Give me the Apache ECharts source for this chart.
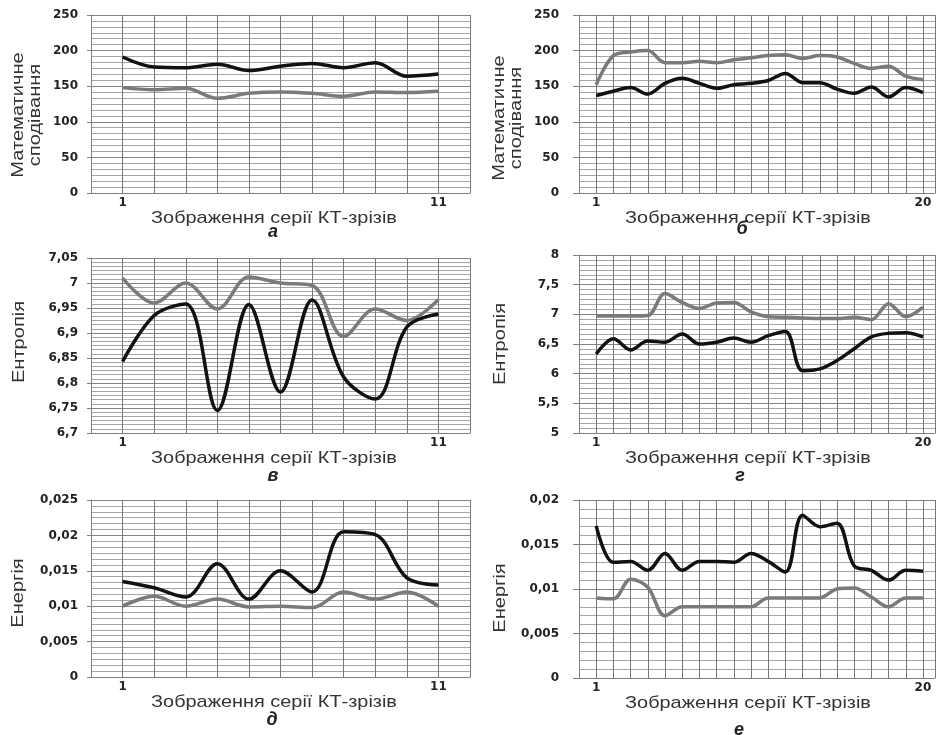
<!DOCTYPE html>
<html>
<head>
<meta charset="utf-8">
<script src="https://cdn.jsdelivr.net/npm/echarts@6/dist/echarts.min.js"></script>
<style>
  html, body { margin: 0; padding: 0; background: #fff; }
  #chart { width: 938px; height: 735px; }
</style>
</head>
<body>
<div id="chart"></div>
<script>
// values, slice index 1..N
const meanBlackA = [191, 177, 176, 181, 172, 178, 182, 176, 183, 164, 167];
const meanGrayA = [148, 145, 147, 133, 140, 142, 140, 136, 142, 141, 143];
const meanBlackB = [137, 143, 148, 139, 154, 161, 154, 147, 152, 154, 158, 168, 155, 155, 146, 140, 149, 135, 148, 141];
const meanGrayB = [152, 193, 198, 200, 183, 183, 185, 183, 187, 190, 193, 194, 189, 193, 191, 182, 175, 178, 164, 159];
const entBlackV = [6.843, 6.935, 6.958, 6.745, 6.957, 6.782, 6.966, 6.812, 6.768, 6.912, 6.938];
const entGrayV = [7.01, 6.96, 7.0, 6.948, 7.012, 7.0, 6.995, 6.893, 6.948, 6.925, 6.967];
const entBlackG = [6.33, 6.59, 6.4, 6.55, 6.53, 6.67, 6.5, 6.53, 6.6, 6.53, 6.64, 6.71, 6.05, 6.08, 6.22, 6.42, 6.62, 6.68, 6.69, 6.62];
const entGrayG = [6.97, 6.97, 6.97, 6.98, 7.35, 7.2, 7.1, 7.19, 7.2, 7.04, 6.96, 6.95, 6.94, 6.93, 6.93, 6.95, 6.91, 7.18, 6.96, 7.12];
const enBlackD = [0.0135, 0.0126, 0.0113, 0.016, 0.011, 0.015, 0.012, 0.0205, 0.0201, 0.014, 0.013];
const enGrayD = [0.01, 0.0114, 0.01, 0.011, 0.0099, 0.01, 0.0098, 0.012, 0.011, 0.012, 0.01];
const enBlackE = [0.0171, 0.013, 0.0131, 0.0121, 0.014, 0.0121, 0.0131, 0.0131, 0.013, 0.014, 0.0131, 0.0119, 0.0183, 0.017, 0.0174, 0.0126, 0.0121, 0.011, 0.0121, 0.012];
const enGrayE = [0.009, 0.0089, 0.0111, 0.0102, 0.007, 0.008, 0.008, 0.008, 0.008, 0.008, 0.009, 0.009, 0.009, 0.009, 0.01, 0.0101, 0.0091, 0.008, 0.009, 0.009];

const xTicksShort = [1, 11];
const xTicksLong = [1, 20];
const xTitle = 'Зображення серії КТ-зрізів';
const panelLetters = ['а', 'б', 'в', 'г', 'д', 'е'];
const yTitles = ['Математичне\nсподівання', 'Математичне\nсподівання', 'Ентропія', 'Ентропія', 'Енергія', 'Енергія'];

const panels = [
  { black: meanBlackA, gray: meanGrayA, ticks: xTicksShort, xMax: 12, y: [0, 250, 50], minor: 6 },
  { black: meanBlackB, gray: meanGrayB, ticks: xTicksLong, xMax: 20.7, y: [0, 250, 50], minor: 6 },
  { black: entBlackV, gray: entGrayV, ticks: xTicksShort, xMax: 12, y: [6.7, 7.05, 0.05], minor: 6 },
  { black: entBlackG, gray: entGrayG, ticks: xTicksLong, xMax: 20.7, y: [5, 8, 0.5], minor: 6 },
  { black: enBlackD, gray: enGrayD, ticks: xTicksShort, xMax: 12, y: [0, 0.025, 0.005], minor: 6 },
  { black: enBlackE, gray: enGrayE, ticks: xTicksLong, xMax: 20.7, y: [0, 0.02, 0.005], minor: 5 }
];

const grids = [
  { left: 91, top: 15, width: 379, height: 178 },
  { left: 579, top: 15, width: 360, height: 178 },
  { left: 91, top: 258, width: 379, height: 175 },
  { left: 579, top: 255, width: 360, height: 178 },
  { left: 91, top: 500, width: 379, height: 177 },
  { left: 579, top: 500, width: 360, height: 178 }
];

// text anchor spots: x title, letter, y title
const xTitlePos = [[274, 218], [748, 218], [274, 458], [748, 458], [274, 702], [748, 703]];
const letterPos = [[273, 232], [742, 229], [273, 476], [740, 476], [272, 720], [739, 730]];
const yTitlePos = [[27, 115], [508, 118], [19, 342], [500, 344], [18, 593], [500, 598]];

const fmt = (v) => String(+v.toFixed(4)).replace('.', ',');
const font = '"Liberation Sans", Arial, sans-serif';
const tickFont = '"DejaVu Sans", sans-serif';

const xAxes = panels.map((p, i) => ({
  type: 'value',
  gridIndex: i,
  min: 0,
  max: p.xMax,
  interval: 1,
  axisLine: { show: true, onZero: false, lineStyle: { color: '#808080', width: 1 } },
  axisTick: { show: false },
  axisLabel: {
    margin: 4,
    fontFamily: tickFont,
    fontWeight: 'bold',
    fontSize: 12,
    color: '#222',
    formatter: (v) => (p.ticks.includes(v) ? String(v) : '')
  },
  splitLine: { show: true, lineStyle: { color: '#777', width: 1 } }
}));

const yAxes = panels.map((p, i) => ({
  type: 'value',
  gridIndex: i,
  min: p.y[0],
  max: p.y[1],
  interval: p.y[2],
  axisLine: { show: true, lineStyle: { color: '#808080', width: 1 } },
  axisTick: { show: true, length: i % 2 ? 6 : 4, lineStyle: { color: '#808080' } },
  axisLabel: {
    margin: i % 2 ? 20 : 13,
    fontFamily: tickFont,
    fontWeight: 'bold',
    fontSize: 12,
    color: '#222',
    formatter: fmt
  },
  splitLine: { show: true, lineStyle: { color: '#858585', width: 1 } },
  minorTick: { show: false, splitNumber: p.minor },
  minorSplitLine: { show: true, lineStyle: { color: '#a6a6a6', width: 1 } }
}));

const series = [];
panels.forEach((p, i) => {
  series.push({
    type: 'line', xAxisIndex: i, yAxisIndex: i, smooth: 0.35, symbol: 'none',
    lineStyle: { color: '#7a7a7a', width: 3.5 },
    data: p.gray.map((v, k) => [k + 1, v])
  });
  series.push({
    type: 'line', xAxisIndex: i, yAxisIndex: i, smooth: 0.35, symbol: 'none',
    lineStyle: { color: '#111', width: 3.5 },
    data: p.black.map((v, k) => [k + 1, v])
  });
});

const texts = [];
panels.forEach((p, i) => {
  texts.push({
    type: 'text', x: xTitlePos[i][0], y: xTitlePos[i][1], scaleX: 1.17,
    style: { text: xTitle, font: '17px ' + font, fill: '#333', textAlign: 'center', textVerticalAlign: 'middle' }
  });
  texts.push({
    type: 'text', x: letterPos[i][0], y: letterPos[i][1],
    style: { text: panelLetters[i], font: 'italic bold 18px ' + font, fill: '#222', textAlign: 'center', textVerticalAlign: 'middle' }
  });
  texts.push({
    type: 'text', x: yTitlePos[i][0], y: yTitlePos[i][1], rotation: Math.PI / 2, scaleX: 1.18,
    style: { text: yTitles[i], font: '17px ' + font, fill: '#333', textAlign: 'center', textVerticalAlign: 'middle', lineHeight: 17 }
  });
});

const chart = echarts.init(document.getElementById('chart'));
chart.setOption({
  animation: false,
  backgroundColor: '#fff',
  grid: grids,
  xAxis: xAxes,
  yAxis: yAxes,
  series: series,
  graphic: texts
});
</script>
</body>
</html>
